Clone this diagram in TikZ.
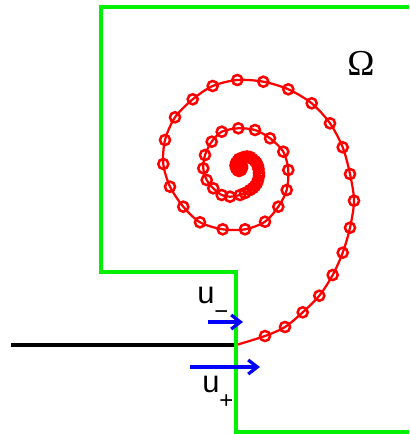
\documentclass[tikz,border=0pt]{standalone}
\usepackage{fontspec}
\setmainfont{Liberation Sans}
\newfontfamily\omegafont{Liberation Serif}
\usepackage{xcolor}
\usepackage{tikz}
\usetikzlibrary{arrows.meta,plotmarks}
\definecolor{wall_green}{RGB}{0,240,0}
\definecolor{sheet_red}{RGB}{255,0,0}
\definecolor{flow_blue}{RGB}{0,0,255}
\newcommand{\lowsub}[1]{\raisebox{-12pt}{\fontsize{17}{17}\selectfont#1}}

\begin{document}
\begin{tikzpicture}[
      x=0.025cm, y=-0.025cm,
      wall/.style={draw=wall_green, line width=2.8pt},
      plate/.style={draw=black, line width=2.2pt},
      sheet/.style={draw=sheet_red, line width=1.6pt},
      flow/.style={-{Straight Barb[length=6.5pt,width=10pt]}, flow_blue, line width=2.3pt},
      lbl/.style={font=\fontsize{22}{24}\selectfont, inner sep=0pt, anchor=base west},
    ]
    \useasboundingbox (0,0) rectangle (409,434);

    % rolled-up vortex sheet
    \draw[sheet] plot[smooth, mark=o, mark phase=2,
                      mark size=3.6pt, mark options={sheet_red, line width=1.8pt}]
      coordinates {(236,345) (265,336) (285,327) (302.7,312.3) (319.3,295.7)
        (332.7,275) (342.7,252.7) (350,227.7) (354,200.7) (350,174)
        (342.7,147.3) (330,123.3) (311.7,103.3) (288.3,89.3) (263.3,81.7)
        (237.3,80) (212.7,86) (192.7,99.3) (175,117.3) (165,140)
        (163.3,164) (170,186.7) (183.3,206.7) (200,222.3) (222.7,229.3)
        (245,229.3) (265,221.7) (278.3,206.7) (286.7,190) (288.3,170)
        (283.3,151.7) (270,138.3) (255,130) (238.3,128.3) (221.7,131.7)
        (211.7,141.7) (205,155) (203.3,168.3) (206.7,180) (213.3,188.3)
        (221.7,195) (230,196.7) (240,195) (245,193) (250,190) (253,188)
        (255,186) (257,183) (258,180) (259,176) (259,173) (258.5,169)
        (258,166) (256.5,163) (255,161) (252.5,159) (250,157) (247,156.5)
        (244,157) (241.5,158) (239,159) (237.5,161) (236,163) (235.5,165.5)
        (236,168) (237.5,170) (239,171) (241,170) (242,168) (242,166) (241,164)};

    % wall and plate
    \draw[wall] (409,7) -- (101,7) -- (101,272) -- (236,272) -- (236,432) -- (409,432);
    \draw[plate] (11,345) -- (234,345);

    % labels
    \node[font=\omegafont\fontsize{26}{28}\selectfont, inner sep=0pt] (omega) at (361,63) {Ω};
    \node[lbl] (uminus) at (197,303) {u\lowsub{−}};
    \node[lbl] (uplus)  at (202,392) {u\lowsub{+}};

    % velocities
    \coordinate (um-tail) at (208,322);
    \coordinate (um-tip)  at (243,322);
    \coordinate (up-tail) at (190,367);
    \coordinate (up-tip)  at (260,367);
    \draw[flow] (um-tail) -- (um-tip);
    \draw[flow] (up-tail) -- (up-tip);
  \end{tikzpicture}
\end{document}
